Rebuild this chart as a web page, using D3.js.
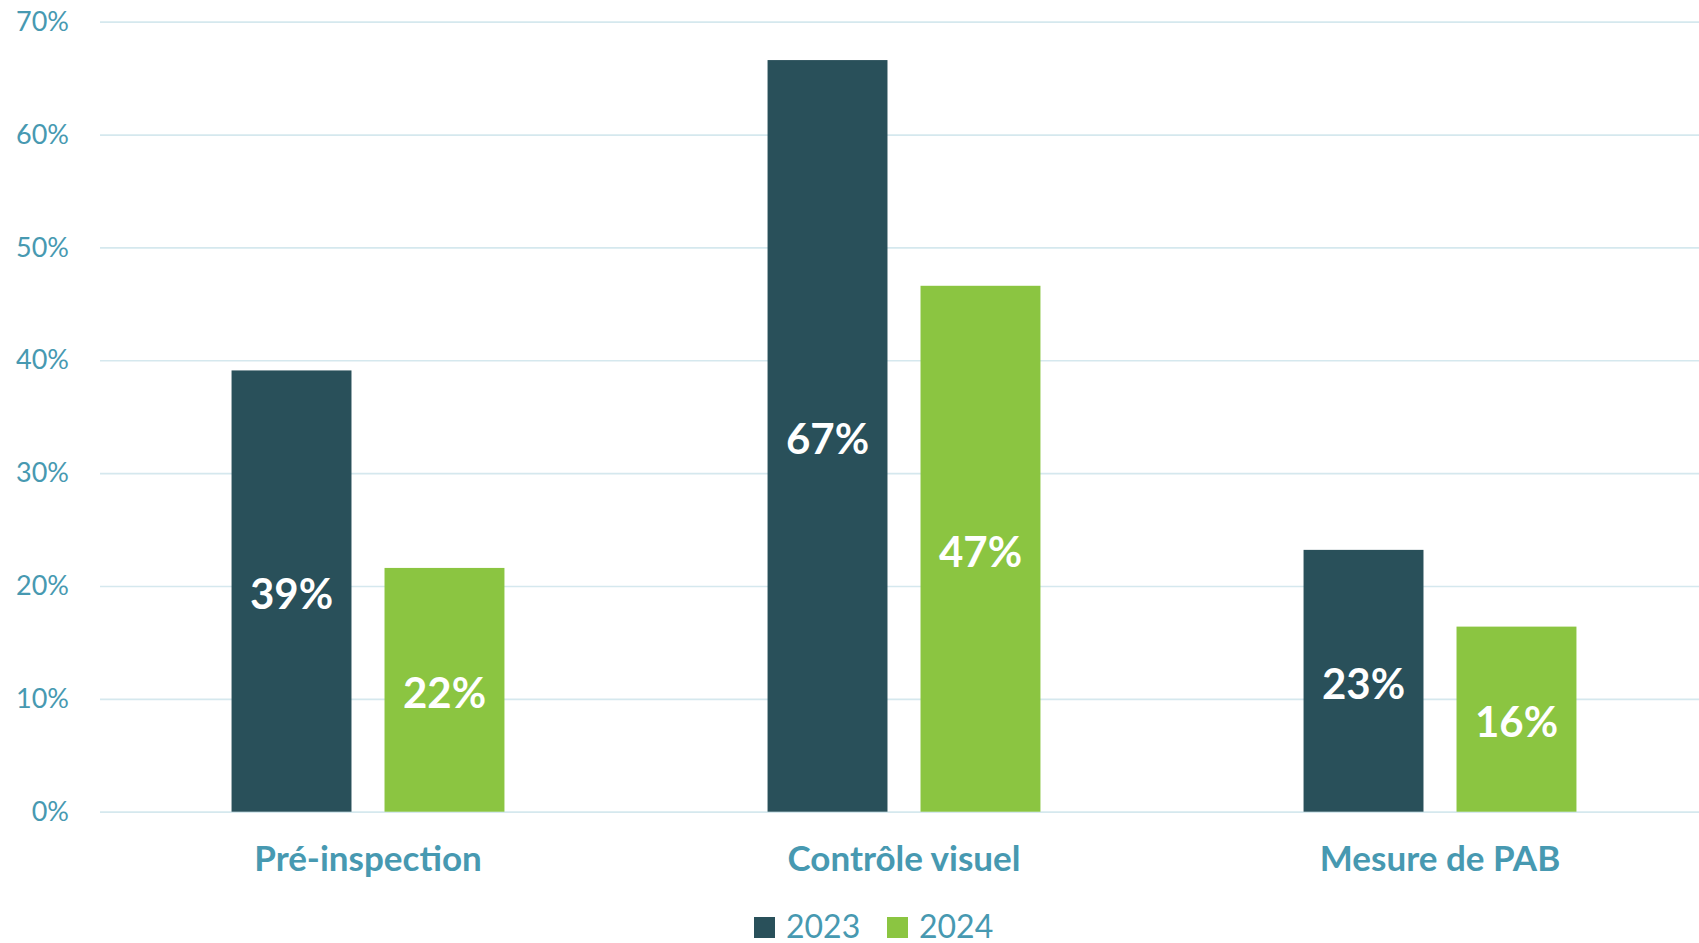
<!DOCTYPE html>
<html>
<head>
<meta charset="utf-8">
<script src="https://cdn.jsdelivr.net/npm/d3@7"></script>
<style>
  body { margin: 0; background: #fff; }
  svg { display: block; font-family: Lato, "Open Sans", sans-serif; }
</style>
</head>
<body>
<div id="chart-container"></div>
<script>
// data
const categories = ["Pré-inspection", "Contrôle visuel", "Mesure de PAB"];
const years = ["2023", "2024"];
const values2023 = [39.1, 66.6, 23.2];
const values2024 = [21.6, 46.6, 16.4];
const yTicks = [0, 10, 20, 30, 40, 50, 60, 70];

const colors = {"2023": "#29505a", "2024": "#8bc541"};
const textColor = "#4799b1";
const gridColor = "#d5e8ee";

const totalW = 1699, totalH = 943;
const margin = {top: 21.7, right: 0, bottom: 131.3, left: 100};
const width = totalW - margin.left - margin.right;
const height = totalH - margin.top - margin.bottom;

const svg = d3.select("#chart-container")
  .append("svg")
  .attr("width", totalW)
  .attr("height", totalH)
  .append("g")
  .attr("transform", `translate(${margin.left},${margin.top})`);

// scales (category bands run a little past the right edge, as in the original)
const x0 = d3.scaleBand().domain(categories).range([0, 1608]);
const x1 = d3.scaleBand().domain(years).range([0, x0.bandwidth()])
  .paddingInner(0.216).paddingOuter(0.86);
const y = d3.scaleLinear().domain([0, 70]).range([height, 0]);

// y axis with gridlines
svg.append("g")
  .call(d3.axisLeft(y)
    .tickValues(yTicks)
    .tickFormat(d => d + "%")
    .tickSize(-width)
    .tickPadding(31))
  .call(g => g.select(".domain").remove())
  .call(g => g.selectAll(".tick line")
    .attr("stroke", gridColor)
    .attr("stroke-width", 1.7))
  .call(g => g.selectAll(".tick text")
    .attr("fill", textColor)
    .style("font-size", "27px")
    .style("font-family", "Lato, sans-serif"));

// build rows
const rows = categories.map((c, i) => ({
  cat: c,
  vals: [{year: "2023", v: values2023[i]}, {year: "2024", v: values2024[i]}]
}));

const groups = svg.selectAll(".grp")
  .data(rows)
  .join("g")
  .attr("class", "grp")
  .attr("transform", d => `translate(${x0(d.cat)},0)`);

groups.selectAll("rect")
  .data(d => d.vals)
  .join("rect")
  .attr("x", d => x1(d.year))
  .attr("width", x1.bandwidth())
  .attr("y", d => y(d.v))
  .attr("height", d => height - y(d.v))
  .attr("fill", d => colors[d.year]);

// value labels centred in the bars
groups.selectAll(".val")
  .data(d => d.vals)
  .join("text")
  .attr("class", "val")
  .attr("x", d => x1(d.year) + x1.bandwidth() / 2)
  .attr("y", d => (y(d.v) + height) / 2)
  .attr("dy", "0.43em")
  .attr("text-anchor", "middle")
  .attr("fill", "#fff")
  .style("font-size", "42px")
  .style("font-weight", "bold")
  .text(d => Math.round(d.v) + "%");

// category labels
svg.selectAll(".cat")
  .data(categories)
  .join("text")
  .attr("class", "cat")
  .attr("x", d => x0(d) + x0.bandwidth() / 2)
  .attr("y", height + 59.3)
  .attr("text-anchor", "middle")
  .attr("fill", textColor)
  .style("font-size", "35px")
  .style("font-weight", "bold")
  .text(d => d);

// legend
const legend = svg.append("g")
  .attr("transform", `translate(${754 - margin.left},${917 - margin.top})`);

const item = legend.selectAll(".leg")
  .data(years)
  .join("g")
  .attr("class", "leg")
  .attr("transform", (d, i) => `translate(${i * 133},0)`);

item.append("rect")
  .attr("width", 21)
  .attr("height", 21)
  .attr("fill", d => colors[d]);

item.append("text")
  .attr("x", 32)
  .attr("y", 21)
  .attr("fill", textColor)
  .style("font-size", "32px")
  .text(d => d);
</script>
</body>
</html>
